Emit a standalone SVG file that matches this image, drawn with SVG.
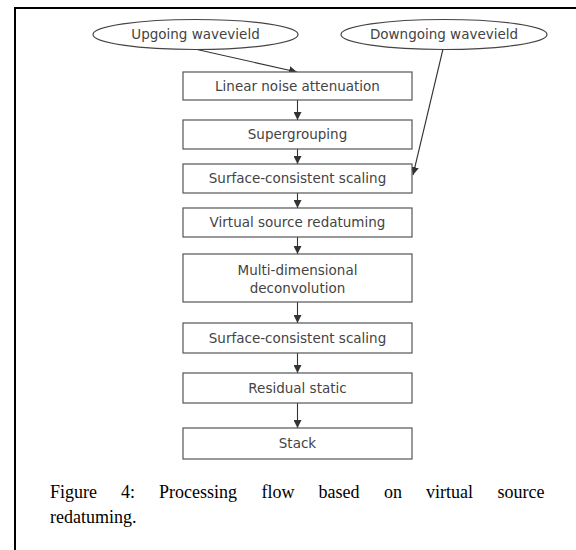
<svg xmlns="http://www.w3.org/2000/svg" width="576" height="550" viewBox="0 0 576 550">
<style>
.box{fill:#fff;stroke:#555;stroke-width:1.2}
.ell{fill:#fff;stroke:#444;stroke-width:1.2}
.lbl{font-family:"DejaVu Sans",sans-serif;font-size:13.5px;fill:#444;text-anchor:middle}
.con{stroke:#333;stroke-width:1.1;fill:none;marker-end:url(#ah)}
.cap{font-family:"Liberation Serif","Times New Roman",serif;font-size:18px;fill:#000}
</style>
<defs>
<marker id="ah" markerUnits="userSpaceOnUse" markerWidth="9" markerHeight="8" refX="8" refY="4" orient="auto">
<path d="M0,0 L8,4 L0,8 z" fill="#333"/>
</marker>
</defs>
<rect x="0" y="0" width="576" height="550" fill="#fff"/>
<g id="frame" stroke="#000" stroke-width="2">
<line x1="14" y1="8" x2="576" y2="8"/>
<line x1="15" y1="7" x2="15" y2="550"/>
</g>
<g id="connectors">
<line class="con" x1="197" y1="49.5" x2="297" y2="72"/>
<line class="con" x1="443" y1="49" x2="413" y2="175"/>
<line class="con" x1="297.5" y1="100" x2="297.5" y2="120"/>
<line class="con" x1="297.5" y1="149" x2="297.5" y2="164"/>
<line class="con" x1="297.5" y1="193" x2="297.5" y2="208"/>
<line class="con" x1="297.5" y1="237" x2="297.5" y2="254"/>
<line class="con" x1="297.5" y1="302" x2="297.5" y2="323"/>
<line class="con" x1="297.5" y1="353" x2="297.5" y2="373"/>
<line class="con" x1="297.5" y1="403" x2="297.5" y2="428"/>
</g>
<g id="upgoing"><ellipse class="ell" cx="195.5" cy="34.5" rx="102.5" ry="15"/><text class="lbl" x="195.5" y="39">Upgoing wavevield</text></g>
<g id="downgoing"><ellipse class="ell" cx="444" cy="34.5" rx="103" ry="15"/><text class="lbl" x="444" y="39">Downgoing wavevield</text></g>
<g id="lna"><rect class="box" x="183" y="72" width="229" height="28"/><text class="lbl" x="297.5" y="90.5">Linear noise attenuation</text></g>
<g id="supergrouping"><rect class="box" x="183" y="120" width="229" height="29"/><text class="lbl" x="297.5" y="139">Supergrouping</text></g>
<g id="scs1"><rect class="box" x="183" y="164" width="229" height="29"/><text class="lbl" x="297.5" y="183">Surface-consistent scaling</text></g>
<g id="vsr"><rect class="box" x="183" y="208" width="229" height="29"/><text class="lbl" x="297.5" y="227">Virtual source redatuming</text></g>
<g id="mdd"><rect class="box" x="183" y="254" width="229" height="48"/><text class="lbl" x="297.5" y="274.5">Multi-dimensional</text><text class="lbl" x="297.5" y="292.5">deconvolution</text></g>
<g id="scs2"><rect class="box" x="183" y="323" width="229" height="30"/><text class="lbl" x="297.5" y="342.5">Surface-consistent scaling</text></g>
<g id="residual"><rect class="box" x="183" y="373" width="229" height="30"/><text class="lbl" x="297.5" y="392.5">Residual static</text></g>
<g id="stack"><rect class="box" x="183" y="428" width="229" height="31"/><text class="lbl" x="297.5" y="448">Stack</text></g>
<g id="caption">
<text class="cap" y="498"><tspan x="50">Figure</tspan><tspan x="121">4:</tspan><tspan x="159">Processing</tspan><tspan x="261.5">flow</tspan><tspan x="318.5">based</tspan><tspan x="384">on</tspan><tspan x="426">virtual</tspan><tspan x="497.5">source</tspan></text>
<text class="cap" x="50" y="523">redatuming.</text>
</g>
</svg>
